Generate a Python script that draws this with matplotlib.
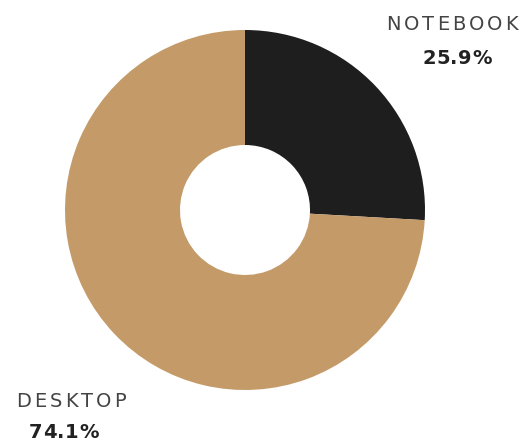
import matplotlib
matplotlib.use("Agg")
import matplotlib.pyplot as plt
from matplotlib.font_manager import FontProperties, findfont, get_font
from matplotlib.ft2font import LoadFlags

categories = ["NOTEBOOK", "DESKTOP"]
shares = [25.9, 74.1]
colors = ["#1e1e1e", "#c49b68"]

W, H = 525, 441
DPI = 100
fig = plt.figure(figsize=(W / DPI, H / DPI), dpi=DPI)
cx, cy, r = 245, 210, 180
ax = fig.add_axes([(cx - r) / W, (H - cy - r) / H, 2 * r / W, 2 * r / H])
ax.pie(shares, colors=colors, startangle=90, counterclock=False,
       radius=1.0, wedgeprops=dict(width=1 - 65 / 180, linewidth=0))
ax.set_xlim(-1, 1)
ax.set_ylim(-1, 1)
ax.set_aspect("equal")
ax.axis("off")


def advances(s, prop):
    """Horizontal advance of each character, in pixels."""
    font = get_font(findfont(prop))
    font.set_size(prop.get_size_in_points(), DPI)
    out = []
    for ch in s:
        g = font.load_char(ord(ch), flags=LoadFlags.NO_HINTING)
        out.append(g.linearHoriAdvance / 65536)
    return out


def spaced_text(x_center, y_base, s, prop, spacing, color):
    """Draw text centred horizontally on a baseline, with extra letter tracking."""
    adv = advances(s, prop)
    total = sum(adv) + spacing * (len(s) - 1)
    x = x_center - total / 2
    for ch, a in zip(s, adv):
        fig.text(x / W, 1 - y_base / H, ch, ha="left", va="baseline",
                 fontproperties=prop, color=color)
        x += a + spacing


label_prop = FontProperties(family="DejaVu Sans", size=14, weight="normal")
pct_prop = FontProperties(family="DejaVu Sans", size=14, weight="bold")

spaced_text(452, 30, categories[0], label_prop, 3.0, "#444444")
spaced_text(457, 64, f"{shares[0]}%", pct_prop, 0.5, "#222222")
spaced_text(71, 407, categories[1], label_prop, 3.0, "#444444")
spaced_text(64, 438, f"{shares[1]}%", pct_prop, 0.5, "#222222")

fig.savefig("out.png", dpi=DPI, facecolor="white")
